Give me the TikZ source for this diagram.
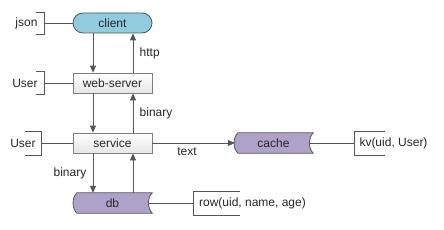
\documentclass[tikz,border=0pt]{standalone}
\usepackage{fontspec}
\setmainfont{Liberation Sans}
\usetikzlibrary{arrows.meta,calc,backgrounds}
\definecolor{edge}{HTML}{555555}
\definecolor{boxline}{HTML}{808080}
\definecolor{clientfill}{HTML}{8FCCDE}
\definecolor{purp}{HTML}{AFA2C9}
\begin{document}
\begin{tikzpicture}[x=1pt,y=-1pt,
  every node/.style={font=\fontsize{12}{14}\selectfont, text=black!85},
  plainbox/.style={draw=boxline, line width=0.8pt, top color=white, bottom color=black!10,
    minimum width=79pt, minimum height=20pt, inner sep=0pt},
  pillbox/.style={draw=edge, line width=0.8pt, fill=clientfill, rounded corners=10pt,
    minimum width=79pt, minimum height=20pt, inner sep=0pt},
  scrollbox/.style={minimum width=79pt, minimum height=20pt, inner sep=0pt},
  scrollpath/.style={draw=edge, line width=0.8pt, fill=purp},
  arr/.style={draw=edge, line width=0.8pt, -{Triangle[width=6pt,length=7pt]}},
  conn/.style={draw=edge, line width=0.8pt},
  brk/.style={draw=edge, line width=0.8pt},
  lbl/.style={inner sep=1pt}]
\useasboundingbox (0,0) rectangle (444,230);

% main nodes
\node[pillbox] (client) at (112.5,23) {client};
\node[plainbox] (web) at (112.5,83) {web-server};
\node[plainbox] (service) at (112.5,143) {service};
\node[scrollbox] (db) at (112.5,203) {db};
\node[scrollbox] (cache) at (273.5,143) {cache};

% scroll shapes
\begin{scope}[on background layer]
\foreach \n in {db,cache}{
  \path[scrollpath] ($(\n.north west)+(4,0)$) -- (\n.north east)
    .. controls ($(\n.north east)+(-5,5)$) and ($(\n.south east)+(-5,-5)$) .. (\n.south east)
    -- ($(\n.south west)+(4,0)$)
    .. controls ($(\n.south west)+(-1,-5)$) and ($(\n.north west)+(-1,5)$) .. cycle;
}
\end{scope}

% annotations
\node[lbl] (json) at (26.5,23) {json};
\coordinate (jsonb) at (44,23);
\draw[brk] ($(jsonb)+(-8,-11)$) -- ++(8,0) -- ++(0,22) -- ++(-8,0);
\draw[conn] (jsonb) -- (client.west);

\node[lbl] (user1) at (25,83) {User};
\coordinate (user1b) at (44,83);
\draw[brk] ($(user1b)+(-8,-11.5)$) -- ++(8,0) -- ++(0,23) -- ++(-8,0);
\draw[conn] (user1b) -- (web.west);

\node[lbl] (user2) at (23,143) {User};
\coordinate (user2b) at (41,143);
\draw[brk] ($(user2b)+(-16,-12)$) -- ++(16,0) -- ++(0,24) -- ++(-16,0);
\draw[conn] (user2b) -- (service.west);

\node[lbl] (kv) at (393.5,143) {kv(uid, User)};
\coordinate (kvb) at (354,143);
\draw[brk] ($(kvb)+(31,-12)$) -- ++(-31,0) -- ++(0,24) -- ++(31,0);
\draw[conn] ($(cache.east)+(-4,0)$) -- (kvb);

\node[lbl] (row) at (252.5,203) {row(uid, name, age)};
\coordinate (rowb) at (193,203);
\draw[brk] ($(rowb)+(47,-12)$) -- ++(-47,0) -- ++(0,24) -- ++(47,0);
\draw[conn] ($(db.east)+(-4,0)$) -- (rowb);

% arrows
\draw[arr] ([xshift=-19.5pt]client.south) -- ([xshift=-19.5pt]web.north);
\draw[arr] ([xshift=20.5pt]web.north) -- ([xshift=20.5pt]client.south)
  node[midway, right=3pt] {http};
\draw[arr] ([xshift=-19.5pt]web.south) -- ([xshift=-19.5pt]service.north);
\draw[arr] ([xshift=20.5pt]service.north) -- ([xshift=20.5pt]web.south)
  node[midway, right=3pt] {binary};
\draw[arr] ([xshift=-19.5pt]service.south) -- ([xshift=-19.5pt]db.north)
  node[midway, left=3pt] {binary};
\draw[arr] ([xshift=20.5pt]db.north) -- ([xshift=20.5pt]service.south);
\draw[arr] (service.east) -- ($(cache.west)+(1,0)$)
  node[pos=0.42, below=1pt] {text};
\end{tikzpicture}
\end{document}
